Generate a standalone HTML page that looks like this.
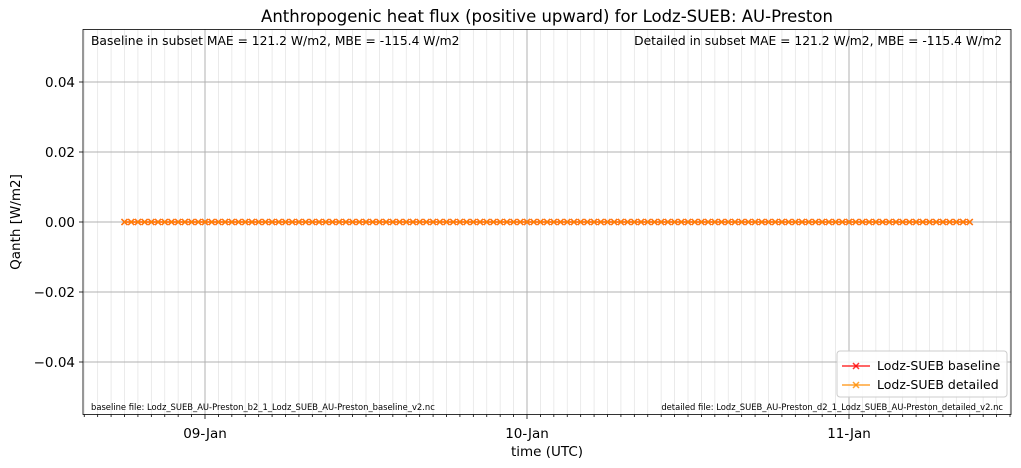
<!DOCTYPE html>
<html><head><meta charset="utf-8"><style>
body{margin:0;background:#fff;}
svg{display:block;font-family:"DejaVu Sans","Liberation Sans",sans-serif;}
</style></head><body>
<svg id="chart" width="1021" height="468">
<text x="547" y="22" font-size="16.5" text-anchor="middle">Anthropogenic heat flux (positive upward) for Lodz-SUEB: AU-Preston</text>
<g id="grid"></g>
<g id="series"></g>
<rect x="83" y="29.5" width="928" height="385" fill="none" stroke="#000" stroke-width="0.8"/>
<g id="axes"></g>
<text x="91" y="45" font-size="12.3">Baseline in subset MAE = 121.2 W/m2, MBE = -115.4 W/m2</text>
<text x="1002" y="45" font-size="12.3" text-anchor="end">Detailed in subset MAE = 121.2 W/m2, MBE = -115.4 W/m2</text>
<text x="91" y="410" font-size="8.4">baseline file: Lodz_SUEB_AU-Preston_b2_1_Lodz_SUEB_AU-Preston_baseline_v2.nc</text>
<text x="1003" y="410" font-size="8.4" text-anchor="end">detailed file: Lodz_SUEB_AU-Preston_d2_1_Lodz_SUEB_AU-Preston_detailed_v2.nc</text>
<text x="547" y="456" font-size="13.5" text-anchor="middle">time (UTC)</text>
<text x="20" y="222" font-size="13.5" text-anchor="middle" transform="rotate(-90 20 222)">Qanth [W/m2]</text>
<g>
<rect x="837" y="351" width="170" height="46" rx="3" fill="#fff" fill-opacity="0.85" stroke="#ccc"/>
<g>
<line x1="842" y1="366" x2="870" y2="366" stroke="#ff0000" stroke-opacity="0.8" stroke-width="1.5"/>
<path d="M853,363L859,369M853,369L859,363" stroke="#ff0000" stroke-opacity="0.8" stroke-width="1.5"/>
<text x="877" y="370" font-size="12.5">Lodz-SUEB baseline</text></g>
<g>
<line x1="842" y1="385" x2="870" y2="385" stroke="#ff8c00" stroke-opacity="0.8" stroke-width="1.5"/>
<path d="M853,382L859,388M853,388L859,382" stroke="#ff8c00" stroke-opacity="0.8" stroke-width="1.5"/>
<text x="877" y="389" font-size="12.5">Lodz-SUEB detailed</text></g>
</g>
</svg>
<script>
const yTicks=[0.04,0.02,0.00,-0.02,-0.04];
const dayLabels=["09-Jan","10-Jan","11-Jan"];
const startHour=-6; // hours relative to 09-Jan 00:00
const baseline=new Array(127).fill(0);
const detailed=new Array(127).fill(0);
const NS="http://www.w3.org/2000/svg";
function X(h){return 205+h*322/24;}
function Y(v){return 222-v*3500;}
function mk(tag,attrs,parent){const e=document.createElementNS(NS,tag);for(const k in attrs)e.setAttribute(k,attrs[k]);parent.appendChild(e);return e;}
const grid=document.getElementById('grid'),axes=document.getElementById('axes'),ser=document.getElementById('series');
for(let h=-9;h<=60;h++){const x=X(h);if(x<83||x>1011)continue;
 const major=h%24===0;
 const l=mk('line',{x1:x,x2:x,y1:29.5,y2:414.5,stroke:major?'#b0b0b0':'#e6e6e6','stroke-width':major?1:0.8},grid);
 
 
 const t=mk('line',{x1:x,x2:x,y1:414.5,y2:major?419:417,stroke:'#000','stroke-width':0.8},axes);
 
 
}
dayLabels.forEach((d,i)=>{const t=mk('text',{x:X(i*24),y:438,'font-size':13.5,'text-anchor':'middle'},axes);t.textContent=d;
 
 });
yTicks.forEach(v=>{const y=Y(v);
 const g=mk('line',{x1:83,x2:1011,y1:y,y2:y,stroke:'#b0b0b0','stroke-width':1},grid);
 
 
 mk('line',{x1:79,x2:83,y1:y,y2:y,stroke:'#000','stroke-width':0.8},axes);
 const t=mk('text',{x:75,y:y+5,'font-size':13.5,'text-anchor':'end'},axes);t.textContent=v.toFixed(2).replace('-','\u2212');
 
 });
function draw(vals,color,name){
 const pts=vals.map((v,i)=>[X(startHour+i*0.5),Y(v)]);
 const p=mk('polyline',{points:pts.map(p=>p.join(',')).join(' '),fill:'none',stroke:color,'stroke-opacity':0.8,'stroke-width':1.5},ser);
 
 
 pts.forEach(([x,y])=>{const m=mk('path',{d:`M${x-3},${y-3}L${x+3},${y+3}M${x-3},${y+3}L${x+3},${y-3}`,stroke:color,'stroke-opacity':0.8,'stroke-width':1.5},ser);
  
  });
}
draw(baseline,'#ff0000','baseline');
draw(detailed,'#ff8c00','detailed');
</script>
</body></html>
